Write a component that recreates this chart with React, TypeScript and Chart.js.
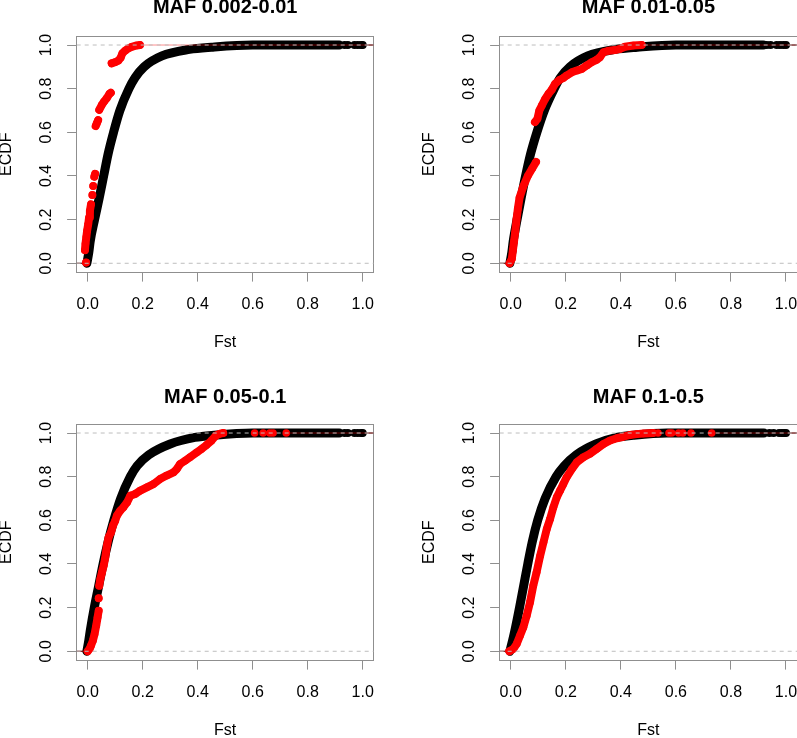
import React, { useEffect, useRef } from "react";
import { Chart, registerables } from "chart.js";

Chart.register(...registerables);

const FONT = "'Liberation Sans', Arial, Helvetica, sans-serif";
const AXIS_MIN = -0.04;
const AXIS_MAX = 1.04;
const X_TICKS = [0, 0.2, 0.4, 0.6, 0.8, 1.0];
const Y_TICKS = [0, 0.2, 0.4, 0.6, 0.8, 1.0];
const REF_LINES = [0, 1];
const X_LABEL = "Fst";
const Y_LABEL = "ECDF";
const TITLES = ["MAF 0.002-0.01", "MAF 0.01-0.05", "MAF 0.05-0.1", "MAF 0.1-0.5"];

// ---------- Panel 1: MAF 0.002-0.01 ----------
const P1_BLACK_FST = [-0.003, 0.004, 0.009, 0.025, 0.042, 0.058, 0.074, 0.094, 0.117, 0.15, 0.172, 0.205, 0.27, 0.37, 0.45, 0.6, 0.75, 0.915];
const P1_BLACK_ECDF = [0, 0.05, 0.1, 0.2, 0.3, 0.4, 0.5, 0.6, 0.7, 0.8, 0.85, 0.9, 0.95, 0.98, 0.99, 1.0, 1.0, 1.0];
const P1_BLACK_TAIL_FST = [0.934, 0.946, 0.97, 0.982, 0.994, 1.0];
const P1_RED_FST = [-0.006, null, -0.01, -0.008, -0.005, -0.002, 0.002, 0.005, 0.008, 0.012, null, 0.017, null, 0.02, null, 0.024, 0.027, null, 0.029, 0.033, 0.038, null, 0.042, 0.051, 0.059, 0.069, 0.079, 0.084, null, 0.087, 0.099, 0.111, 0.12, 0.126, 0.136, 0.148, 0.16, 0.178, 0.19];
const P1_RED_ECDF = [0.003, null, 0.06, 0.09, 0.12, 0.15, 0.18, 0.21, 0.24, 0.27, null, 0.313, null, 0.354, null, 0.397, 0.41, null, 0.629, 0.641, 0.656, null, 0.703, 0.725, 0.74, 0.756, 0.776, 0.781, null, 0.916, 0.921, 0.928, 0.942, 0.962, 0.974, 0.985, 0.992, 0.998, 1.0];
const P1_RED_TAIL_FST: number[] = [];

// ---------- Panel 2: MAF 0.01-0.05 ----------
const P2_BLACK_FST = [-0.003, 0.004, 0.009, 0.023, 0.038, 0.054, 0.072, 0.095, 0.122, 0.158, 0.18, 0.215, 0.28, 0.38, 0.46, 0.6, 0.75, 0.918];
const P2_BLACK_ECDF = [0, 0.05, 0.1, 0.2, 0.3, 0.4, 0.5, 0.6, 0.7, 0.8, 0.85, 0.9, 0.95, 0.98, 0.99, 1.0, 1.0, 1.0];
const P2_BLACK_TAIL_FST = [0.93, 0.944, 0.966, 0.978, 0.99, 1.0];
const P2_RED_FST = [-0.004, 0.004, 0.008, 0.012, 0.016, 0.021, 0.026, 0.032, 0.045, 0.062, 0.078, 0.092, null, 0.088, 0.097, 0.104, 0.113, 0.125, 0.137, 0.149, 0.161, 0.177, 0.191, 0.203, 0.222, 0.24, 0.258, 0.276, 0.294, 0.312, 0.324, 0.337, 0.355, 0.379, 0.397, 0.415, 0.446, 0.476];
const P2_RED_ECDF = [0, 0.02, 0.06, 0.1, 0.14, 0.2, 0.25, 0.3, 0.35, 0.4, 0.434, 0.464, null, 0.647, 0.662, 0.7, 0.723, 0.753, 0.776, 0.795, 0.822, 0.84, 0.849, 0.86, 0.875, 0.883, 0.89, 0.906, 0.921, 0.932, 0.944, 0.967, 0.974, 0.977, 0.982, 0.992, 0.998, 1.0];
const P2_RED_TAIL_FST: number[] = [];

// ---------- Panel 3: MAF 0.05-0.1 ----------
const P3_BLACK_FST = [-0.003, 0.004, 0.01, 0.024, 0.04, 0.056, 0.074, 0.095, 0.12, 0.155, 0.18, 0.222, 0.3, 0.39, 0.46, 0.6, 0.75, 0.915];
const P3_BLACK_ECDF = [0, 0.05, 0.1, 0.2, 0.3, 0.4, 0.5, 0.6, 0.7, 0.8, 0.85, 0.9, 0.95, 0.98, 0.99, 1.0, 1.0, 1.0];
const P3_BLACK_TAIL_FST = [0.934, 0.946, 0.97, 0.982, 0.994, 1.0];
const P3_RED_FST = [0, 0.007, 0.012, 0.019, 0.025, 0.031, 0.036, 0.04, null, 0.04, null, 0.042, 0.046, 0.052, 0.058, 0.064, 0.07, 0.076, 0.085, 0.092, 0.1, 0.106, 0.118, 0.13, 0.143, 0.155, 0.173, 0.191, 0.215, 0.239, 0.263, 0.287, 0.312, 0.324, 0.336, 0.354, 0.372, 0.396, 0.414, 0.432, 0.45, 0.466, 0.481, 0.493];
const P3_RED_ECDF = [0, 0.011, 0.026, 0.049, 0.079, 0.118, 0.156, 0.186, null, 0.243, null, 0.3, 0.331, 0.362, 0.392, 0.43, 0.484, 0.522, 0.545, 0.576, 0.598, 0.621, 0.644, 0.66, 0.682, 0.713, 0.721, 0.736, 0.751, 0.766, 0.789, 0.805, 0.82, 0.835, 0.858, 0.873, 0.889, 0.911, 0.927, 0.945, 0.965, 0.988, 0.997, 1.0];
const P3_RED_TAIL_FST = [0.607, 0.638, 0.662, 0.674, 0.722];

// ---------- Panel 4: MAF 0.1-0.5 ----------
const P4_BLACK_FST = [-0.003, 0.007, 0.016, 0.032, 0.047, 0.062, 0.078, 0.098, 0.125, 0.165, 0.195, 0.238, 0.31, 0.385, 0.446, 0.567, 0.75, 0.92];
const P4_BLACK_ECDF = [0, 0.05, 0.1, 0.2, 0.3, 0.4, 0.5, 0.6, 0.7, 0.8, 0.85, 0.9, 0.95, 0.98, 0.99, 1.0, 1.0, 1.0];
const P4_BLACK_TAIL_FST = [0.94, 0.955, 0.975, 0.985, 0.993, 1.0];
const P4_RED_FST = [-0.005, 0.01, 0.022, 0.034, 0.046, 0.058, 0.07, 0.082, 0.094, 0.107, 0.119, 0.131, 0.143, 0.155, 0.167, 0.179, 0.191, 0.203, 0.222, 0.24, 0.264, 0.288, 0.312, 0.337, 0.361, 0.385, 0.409, 0.433, 0.458, 0.482, 0.518];
const P4_RED_ECDF = [0, 0.011, 0.034, 0.072, 0.11, 0.163, 0.224, 0.301, 0.362, 0.438, 0.499, 0.56, 0.606, 0.66, 0.705, 0.736, 0.766, 0.797, 0.835, 0.866, 0.889, 0.905, 0.927, 0.95, 0.966, 0.976, 0.983, 0.991, 0.995, 0.998, 1.0];
const P4_RED_TAIL_FST = [0.535, 0.575, 0.585, 0.61, 0.625, 0.655, 0.73];

// ---------- styling / layout ----------
const BLACK = "#000000";
const RED = "#ff0000";
const RED_STEP = "rgba(255,0,0,0.45)";
const REF_COLOR = "#bdbdbd";
const AXIS_COLOR = "#8f8f8f";
const RED_R = 3.8;
const BLACK_R = 4.0;
const BLACK_BAND = 9;
const RED_BAND = 8;

type Geom = {
  cx: number; cy: number; cw: number; ch: number;
  boxL: number; boxR: number; boxT: number; boxB: number;
  titleMid: number;
};

const GEOMS: Geom[] = [
  { cx: -20, cy: -20, cw: 420, ch: 400, boxL: 76.7, boxR: 373.7, boxT: 36.3, boxB: 272.0, titleMid: 7.1 },
  { cx: 400, cy: -20, cw: 420, ch: 400, boxL: 499.7, boxR: 797.0, boxT: 36.3, boxB: 272.0, titleMid: 7.1 },
  { cx: -20, cy: 370, cw: 420, ch: 400, boxL: 76.7, boxR: 373.7, boxT: 424.3, boxB: 660.0, titleMid: 397.4 },
  { cx: 400, cy: 370, cw: 420, ch: 400, boxL: 499.7, boxR: 797.0, boxT: 424.3, boxB: 660.0, titleMid: 397.4 },
];

type PanelData = {
  title: string;
  blackFst: number[]; blackEcdf: number[]; blackTail: number[];
  redFst: (number | null)[]; redEcdf: (number | null)[]; redTail: number[];
};

const PANELS: PanelData[] = [
  { title: TITLES[0], blackFst: P1_BLACK_FST, blackEcdf: P1_BLACK_ECDF, blackTail: P1_BLACK_TAIL_FST, redFst: P1_RED_FST, redEcdf: P1_RED_ECDF, redTail: P1_RED_TAIL_FST },
  { title: TITLES[1], blackFst: P2_BLACK_FST, blackEcdf: P2_BLACK_ECDF, blackTail: P2_BLACK_TAIL_FST, redFst: P2_RED_FST, redEcdf: P2_RED_ECDF, redTail: P2_RED_TAIL_FST },
  { title: TITLES[2], blackFst: P3_BLACK_FST, blackEcdf: P3_BLACK_ECDF, blackTail: P3_BLACK_TAIL_FST, redFst: P3_RED_FST, redEcdf: P3_RED_ECDF, redTail: P3_RED_TAIL_FST },
  { title: TITLES[3], blackFst: P4_BLACK_FST, blackEcdf: P4_BLACK_ECDF, blackTail: P4_BLACK_TAIL_FST, redFst: P4_RED_FST, redEcdf: P4_RED_ECDF, redTail: P4_RED_TAIL_FST },
];

function buildPoints(fst: (number | null)[], ecdf: (number | null)[]) {
  let lastX = 0;
  return fst.map((x, i) => {
    const y = ecdf[i];
    if (x === null || y === null || y === undefined) return { x: lastX, y: null as any };
    lastX = x;
    return { x, y };
  });
}

function stepPoints(fst: (number | null)[], tail: number[]) {
  const xs = (fst.filter((v) => v !== null) as number[]).concat(tail);
  const first = Math.min(...xs);
  const last = Math.max(...xs);
  return [
    { x: AXIS_MIN, y: 0 }, { x: first, y: 0 }, { x: first, y: null as any },
    { x: last, y: 1 }, { x: AXIS_MAX, y: 1 },
  ];
}

function refPoints() {
  const pts: any[] = [];
  REF_LINES.forEach((v, i) => {
    if (i > 0) pts.push({ x: AXIS_MAX, y: null });
    pts.push({ x: AXIS_MIN, y: v }, { x: AXIS_MAX, y: v });
  });
  return pts;
}

function Panel({ data, geom }: { data: PanelData; geom: Geom }) {
  const ref = useRef<HTMLCanvasElement>(null);
  useEffect(() => {
    const g = geom;
    const TITLE_LH = 24;
    const LBL_LH = 19.2;
    const TICK_LEN = 9.6;
    const X_AXIS_H = 80;
    const localL = g.boxL - g.cx;
    const localR = g.boxR - g.cx;
    const localT = g.boxT - g.cy;
    const localB = g.boxB - g.cy;
    const titlePadTop = g.titleMid - g.cy - TITLE_LH / 2;
    const titlePadBottom = localT - titlePadTop - TITLE_LH;
    const ecdfCenterOffset = localL - 70; // from scale left
    const fstMidFromBox = 70.9;
    const fstPadBottom = X_AXIS_H - fstMidFromBox - LBL_LH / 2;

    const tickFmt = (v: any) => Math.abs(Number(v)).toFixed(1);

    const datasets: any[] = [
      { label: "ref", data: refPoints(), borderColor: REF_COLOR, borderWidth: 1, borderDash: [4, 4], pointRadius: 0, tension: 0 },
      { label: "redStep", data: stepPoints(data.redFst, data.redTail), borderColor: RED_STEP, borderWidth: 1, pointRadius: 0, tension: 0 },
      { label: "redTail", data: data.redTail.map((x) => ({ x, y: 1 })), showLine: false, pointRadius: RED_R, pointBorderWidth: 0, pointBackgroundColor: RED },
      { label: "red", data: buildPoints(data.redFst, data.redEcdf), borderColor: RED, borderWidth: RED_BAND, borderCapStyle: "round", borderJoinStyle: "round", pointRadius: RED_R, pointBorderWidth: 0, pointBackgroundColor: RED, tension: 0 },
      { label: "blackStep", data: stepPoints(data.blackFst, data.blackTail), borderColor: BLACK, borderWidth: 1, pointRadius: 0, tension: 0 },
      { label: "blackTail", data: data.blackTail.map((x) => ({ x, y: 1 })), showLine: false, pointRadius: BLACK_R, pointBorderWidth: 0, pointBackgroundColor: BLACK },
      { label: "black", data: buildPoints(data.blackFst, data.blackEcdf), borderColor: BLACK, borderWidth: BLACK_BAND, borderCapStyle: "round", borderJoinStyle: "round", pointRadius: 0, cubicInterpolationMode: "monotone" },
    ];

    const gridOpts = { display: true, drawOnChartArea: false, drawTicks: true, tickLength: TICK_LEN, color: AXIS_COLOR, lineWidth: 1 };
    const borderOpts = { display: true, color: AXIS_COLOR, width: 1 };

    const chart = new Chart(ref.current as HTMLCanvasElement, {
      type: "line",
      data: { datasets },
      options: {
        responsive: false,
        animation: false,
        devicePixelRatio: 1,
        events: [],
        layout: {
          autoPadding: false,
          padding: { left: 0, top: 0, right: g.cw - localR, bottom: g.ch - localB - X_AXIS_H },
        },
        plugins: {
          legend: { display: false },
          tooltip: { enabled: false },
          title: {
            display: true,
            text: data.title,
            color: "#000",
            fullSize: false,
            font: { family: FONT, size: 20, weight: "bold", lineHeight: 1.2 },
            padding: { top: titlePadTop, bottom: titlePadBottom },
          },
        },
        scales: {
          x: {
            type: "linear", position: "bottom", min: AXIS_MIN, max: AXIS_MAX,
            afterBuildTicks: (s: any) => { s.ticks = X_TICKS.map((v) => ({ value: v })); },
            afterFit: (s: any) => { s.height = X_AXIS_H; },
            grid: gridOpts, border: borderOpts,
            ticks: { color: "#000", font: { family: FONT, size: 16, lineHeight: 1.2 }, padding: 13, minRotation: 0, maxRotation: 0, autoSkip: false, callback: tickFmt },
            title: { display: true, text: X_LABEL, color: "#000", font: { family: FONT, size: 16, lineHeight: 1.2 }, padding: { top: 0, bottom: fstPadBottom } },
          },
          y: {
            type: "linear", position: "left", min: AXIS_MIN, max: AXIS_MAX,
            afterBuildTicks: (s: any) => { s.ticks = Y_TICKS.map((v) => ({ value: v })); },
            afterFit: (s: any) => { s.width = localL; },
            grid: gridOpts, border: borderOpts,
            ticks: { color: "#000", font: { family: FONT, size: 16, lineHeight: 1.2 }, padding: 9.0, minRotation: 90, maxRotation: 90, crossAlign: "center", autoSkip: false, callback: tickFmt },
            title: { display: true, text: Y_LABEL, color: "#000", font: { family: FONT, size: 16, lineHeight: 1.2 }, padding: { top: ecdfCenterOffset - LBL_LH / 2, bottom: 0 } },
          },
          xTop: {
            type: "linear", position: "top", min: AXIS_MIN, max: AXIS_MAX,
            afterFit: (s: any) => { s.height = 0; },
            grid: { display: false, drawTicks: false }, border: borderOpts,
            ticks: { display: false },
          },
          yRight: {
            type: "linear", position: "right", min: AXIS_MIN, max: AXIS_MAX,
            afterFit: (s: any) => { s.width = 0; },
            grid: { display: false, drawTicks: false }, border: borderOpts,
            ticks: { display: false },
          },
        },
      } as any,
    });
    return () => chart.destroy();
  }, [data, geom]);

  return (
    <canvas
      ref={ref}
      width={geom.cw}
      height={geom.ch}
      style={{ position: "absolute", left: geom.cx, top: geom.cy, width: geom.cw, height: geom.ch }}
    />
  );
}

export default function App() {
  return (
    <div style={{ position: "absolute", left: 0, top: 0, width: 797, height: 738, overflow: "hidden", background: "#fff" }}>
      {PANELS.map((p, i) => (
        <Panel key={i} data={p} geom={GEOMS[i]} />
      ))}
    </div>
  );
}
